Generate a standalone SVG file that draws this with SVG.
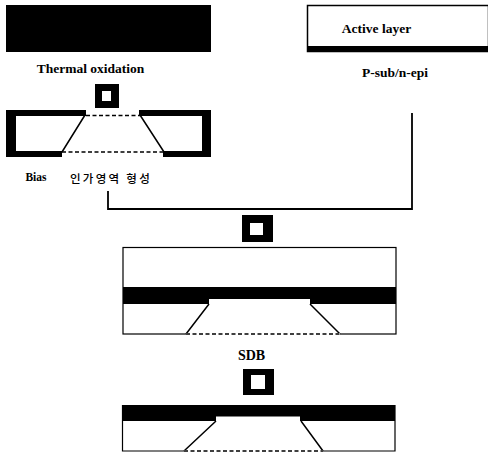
<svg xmlns="http://www.w3.org/2000/svg" width="488" height="453" viewBox="0 0 488 453">
<style>
.k{fill:#000}
.w{fill:#fff}
.l{fill:none;stroke:#000;stroke-width:1.500}
.d{fill:none;stroke:#000;stroke-width:1.500;stroke-dasharray:4 2.500}
.t{font-family:"Liberation Serif","Times New Roman",serif;font-weight:700;fill:#000;text-anchor:middle}
.c{font-family:"Noto Sans CJK KR","Noto Sans",sans-serif;font-size:11.500px;font-weight:500;fill:#000;text-anchor:middle}
</style>
<rect width="488" height="453" fill="#fff"/>
<g id="oxide-block">
<rect class="k" x="6" y="5" width="205" height="47"/>
</g>
<g id="label-thermal"><text class="t" x="90.500" y="73" font-size="13.500">Thermal oxidation</text></g>
<g id="arrow-1">
<rect class="k" x="95" y="84" width="24" height="24"/>
<rect class="w" x="102" y="91" width="9" height="10"/>
</g>
<g id="bias-wafer">
<path class="k" d="M6 110H86V116H16V151H62V157H6Z"/>
<path class="k" d="M139 110H211V157H163V151H202V116H139Z"/>
<path class="l" d="M85 115L62 152M140 115L164 152"/>
<path class="d" d="M86 115.500H140M62 152H164"/>
</g>
<g id="label-bias">
<text class="t" x="36" y="181" font-size="11.500">Bias</text>
<text class="c" x="111" y="183" letter-spacing="2.300">인가영역 형성</text>
</g>
<g id="active-layer">
<rect x="307.500" y="5.500" width="181" height="46" fill="#fff" stroke="#000" stroke-width="1.500"/>
<rect class="k" x="307" y="46" width="181" height="6"/>
<text class="t" x="376.500" y="33" font-size="13.500">Active layer</text>
</g>
<g id="label-psub"><text class="t" x="395" y="77" font-size="13.500">P-sub/n-epi</text></g>
<g id="connectors">
<path d="M108 191V209H412V113" fill="none" stroke="#000" stroke-width="1.800"/>
</g>
<g id="arrow-2">
<rect class="k" x="242" y="215" width="31" height="27"/>
<rect class="w" x="250" y="223" width="13" height="12"/>
</g>
<g id="bonded-wafer">
<rect x="123" y="247.500" width="273" height="86.500" fill="#fff" stroke="#000" stroke-width="1.200"/>
<path class="k" d="M123 287H396V304H310V299H209V304H123Z"/>
<path class="l" d="M209 304L186 334M310 304L340 334"/>
<path class="w" d="M186 334H340" stroke="#fff" stroke-width="2"/>
<path class="d" d="M186 334H340"/>
</g>
<g id="label-sdb"><text class="t" x="251.500" y="360" font-size="14">SDB</text></g>
<g id="arrow-3">
<rect class="k" x="243" y="369" width="31" height="26"/>
<rect class="w" x="251" y="375" width="14" height="14"/>
</g>
<g id="final-wafer">
<path d="M122.500 405V451H395V405" fill="#fff" stroke="#000" stroke-width="1.200"/>
<path class="k" d="M122 405H395V421H300V416.500H216V421H122Z"/>
<path class="l" d="M216 421L184 451M301 421L323 451"/>
<path class="w" d="M184 451H323" stroke="#fff" stroke-width="2"/>
<path class="d" d="M184 451H323"/>
</g>
</svg>
